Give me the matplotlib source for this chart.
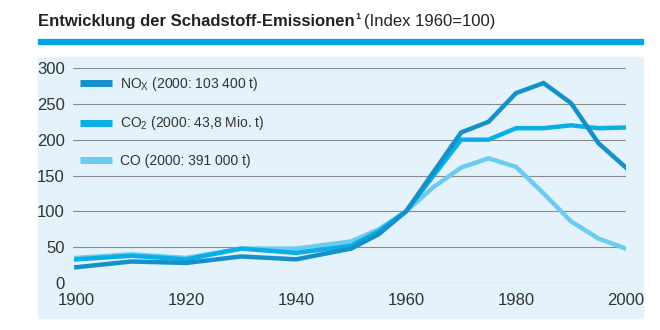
import matplotlib
matplotlib.use("Agg")
from matplotlib import pyplot as plt
from matplotlib.patches import Rectangle

"data"
years = [1900, 1910, 1920, 1930, 1940, 1950, 1955, 1960, 1965, 1970, 1975, 1980, 1985, 1990, 1995, 2000]
nox = [22, 30, 28, 37, 33, 48, 68, 100, 155, 210, 225, 265, 279, 251, 195, 161]
co2 = [33, 38, 33, 48, 42, 52, 72, 100, 150, 200, 200, 216, 216, 220, 216, 217]
co = [35, 40, 35, 48, 48, 58, 75, 100, 134, 161, 174, 162, 125, 86, 62, 48]
labels = ['NO$_\\mathregular{X}$ (2000: 103 400 t)',
          'CO$_\\mathregular{2}$ (2000: 43,8 Mio. t)',
          'CO (2000: 391 000 t)']
xticks = [1900, 1920, 1940, 1960, 1980, 2000]
yticks = [0, 50, 100, 150, 200, 250, 300]

"set format"
fam = 'Liberation Sans'
matplotlib.rcParams.update({'font.family': [fam, 'DejaVu Sans'],
                            'mathtext.fontset': 'custom',
                            'mathtext.rm': fam})
colors = ['#1590c8', '#0aaee6', '#6ccbf0']
bg = '#e3f2fb'

"Figure"
fig = plt.figure(figsize=(6.6, 3.3), dpi=100)
fig.patches.append(Rectangle((38/660, 1-318/330), 605/660, 261/330,
                             transform=fig.transFigure, color=bg, zorder=-5))
fig.patches.append(Rectangle((38/660, 1-44/330), 605/660, 5/330,
                             transform=fig.transFigure, color='#00a6e0', zorder=-5))

"title"
r = fig.canvas.get_renderer()
t1 = fig.text(38/660, 1-26/330, 'Entwicklung der Schadstoff-Emissionen',
              fontsize=12, fontweight='bold', color='#222222')
bb = t1.get_window_extent(r)
t2 = fig.text(bb.x1/660 + 0.001, 1-19/330, '1', fontsize=6.5, fontweight='bold', color='#222222')
bb2 = t2.get_window_extent(r)
fig.text(bb2.x1/660 + 0.006, 1-26/330, '(Index 1960=100)', fontsize=12, color='#222222')

"chart"
ax = fig.add_axes([73/660, 1-283/330, 553/660, 215/330])
ax.set_facecolor('none')
for s in ax.spines.values():
    s.set_visible(False)
for y in yticks:
    ax.axhline(y, color='#8a8a8a', linewidth=0.8, zorder=1)
ax.plot(years, co, color=colors[2], linewidth=3.2, solid_joinstyle='miter', label=labels[2], zorder=3)
ax.plot(years, co2, color=colors[1], linewidth=3.2, solid_joinstyle='miter', label=labels[1], zorder=4)
ax.plot(years, nox, color=colors[0], linewidth=3.2, solid_joinstyle='miter', label=labels[0], zorder=5)
ax.set_xlim(1899.4, 2000)
ax.set_ylim(0, 300)
ax.set_xticks(xticks)
ax.set_yticks(yticks)
ax.tick_params(length=0, labelsize=12, colors='#333333')
ax.tick_params(axis='y', pad=6)
ax.tick_params(axis='x', pad=7)

h, l = ax.get_legend_handles_labels()
leg = ax.legend(h[::-1], l[::-1], loc='upper left', bbox_to_anchor=(0.0, 1.0),
                frameon=False, fontsize=10, handlelength=2.3, handletextpad=0.6,
                labelspacing=1.55, borderaxespad=0.1)
for t in leg.get_texts():
    t.set_color('#333333')
for ln in leg.get_lines():
    ln.set_linewidth(5)
    ln.set_solid_capstyle('butt')

fig.savefig('out.png', dpi=100)
